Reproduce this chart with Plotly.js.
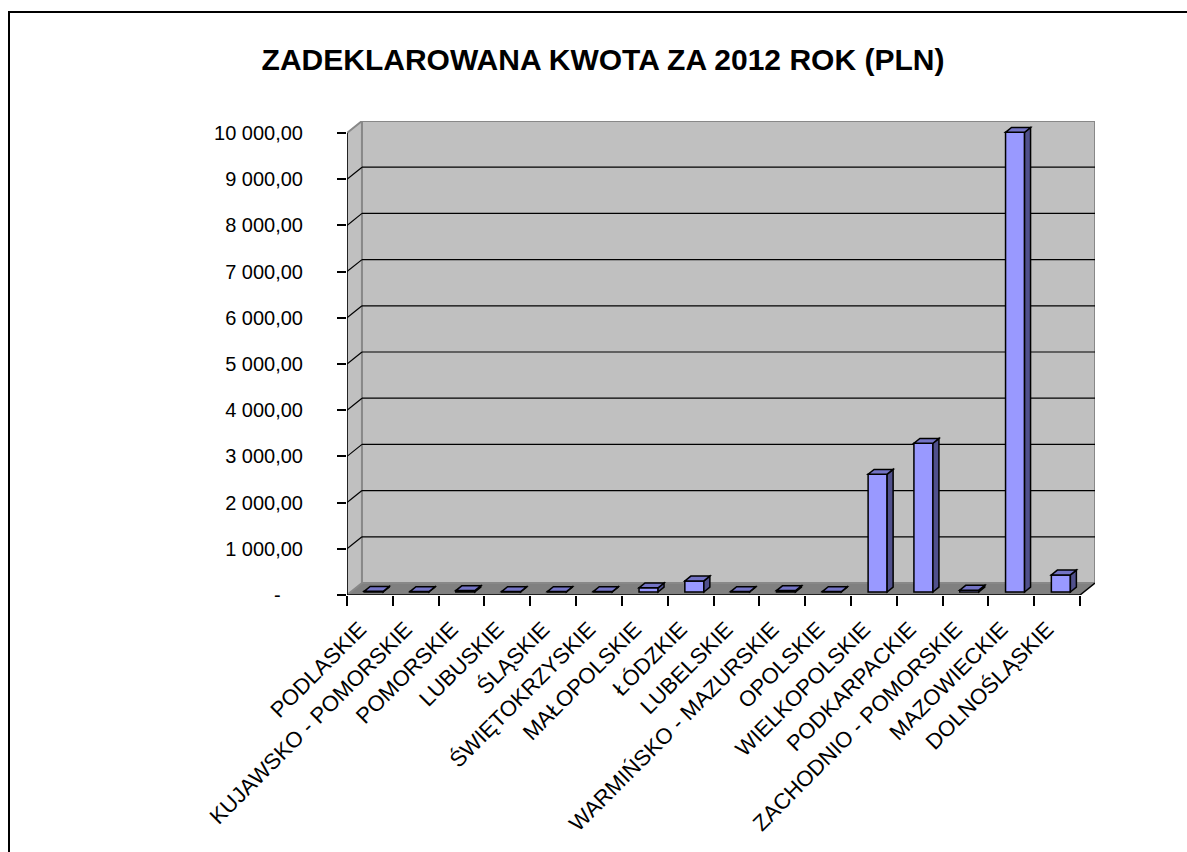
<!DOCTYPE html>
<html>
<head>
<meta charset="utf-8">
<script src="https://cdn.plot.ly/plotly-3.0.1.min.js"></script>
<style>
  body { margin: 0; background: #fff; }
  #frame { position: absolute; left: 8px; top: 11px; width: 1300px; height: 1000px;
           border-left: 2px solid #000; border-top: 2px solid #000; }
  #plotArea { position: absolute; left: 0; top: 0; width: 1187px; height: 852px; }
</style>
</head>
<body>
<div id="frame"></div>
<div id="plotArea"></div>
<script>
// dane z wykresu
var regions = ["PODLASKIE", "KUJAWSKO - POMORSKIE", "POMORSKIE", "LUBUSKIE", "ŚLĄSKIE",
    "ŚWIĘTOKRZYSKIE", "MAŁOPOLSKIE", "ŁÓDZKIE", "LUBELSKIE", "WARMIŃSKO - MAZURSKIE",
    "OPOLSKIE", "WIELKOPOLSKIE", "PODKARPACKIE", "ZACHODNIO - POMORSKIE", "MAZOWIECKIE",
    "DOLNOŚLĄSKIE"];
var amounts = [15, 10, 30, 10, 10, 10, 90, 240, 10, 30, 10, 2550, 3220, 40, 9950, 370];
var yTicks = [0, 1000, 2000, 3000, 4000, 5000, 6000, 7000, 8000, 9000, 10000];
var yTickText = ["-\u00a0\u00a0\u00a0\u00a0", "1 000,00", "2 000,00", "3 000,00", "4 000,00", "5 000,00",
    "6 000,00", "7 000,00", "8 000,00", "9 000,00", "10 000,00"];

// "3D" look: wall depth and bar depth in axis units
var n = regions.length;
var wallDx = 0.327, wallDy = 260;
var barW = 0.415, barDx0 = 0.082, barDy0 = 65, barDx = 0.131, barDy = 104;
var yMax = 10000;

var shapes = [];
var left = -0.5, right = n - 0.5;

// floor
shapes.push({type: "path", xref: "x", yref: "y", layer: "below",
    path: "M" + left + ",0 L" + right + ",0 L" + (right + wallDx) + "," + wallDy +
          " L" + (left + wallDx) + "," + wallDy + " Z",
    fillcolor: "#808080", line: {width: 0}});
// left wall
shapes.push({type: "path", xref: "x", yref: "y", layer: "below",
    path: "M" + left + ",0 L" + (left + wallDx) + "," + wallDy + " L" + (left + wallDx) + "," +
          (yMax + wallDy) + " L" + left + "," + yMax + " Z",
    fillcolor: "#c0c0c0", line: {color: "#888", width: 2}});
// back wall
shapes.push({type: "rect", xref: "x", yref: "y", layer: "below",
    x0: left + wallDx, x1: right + wallDx, y0: wallDy, y1: yMax + wallDy,
    fillcolor: "#c0c0c0", line: {color: "#888", width: 2}});
// gridlines
yTicks.forEach(function (v) {
    if (v === 0 || v === yMax) return;
    shapes.push({type: "line", xref: "x", yref: "y", layer: "below",
        x0: left + wallDx, x1: right + wallDx, y0: v + wallDy, y1: v + wallDy,
        line: {color: "#000", width: 1.2}});
    shapes.push({type: "line", xref: "x", yref: "y", layer: "below",
        x0: left, x1: left + wallDx, y0: v, y1: v + wallDy,
        line: {color: "#000", width: 1.2}});
});
// axis lines
shapes.push({type: "line", xref: "x", yref: "y", x0: left, x1: left, y0: 0, y1: yMax,
    line: {color: "#000", width: 1.5}});
shapes.push({type: "line", xref: "x", yref: "y", x0: left, x1: right, y0: 0, y1: 0,
    line: {color: "#000", width: 1.5}});
shapes.push({type: "line", xref: "x", yref: "y", x0: right, x1: right + wallDx, y0: 0, y1: wallDy,
    line: {color: "#000", width: 1.5}});

// top and side faces of bars
amounts.forEach(function (v, i) {
    var x0 = i - barW / 2 + barDx0, x1 = x0 + barW;
    var b = barDy0, t = barDy0 + v;
    shapes.push({type: "path", xref: "x", yref: "y",
        path: "M" + x1 + "," + b + " L" + (x1 + barDx) + "," + (b + barDy) + " L" + (x1 + barDx) + "," +
              (t + barDy) + " L" + x1 + "," + t + " Z",
        fillcolor: "#50508c", line: {color: "#000", width: 1.5}});
    shapes.push({type: "path", xref: "x", yref: "y",
        path: "M" + x0 + "," + t + " L" + x1 + "," + t + " L" + (x1 + barDx) + "," + (t + barDy) +
              " L" + (x0 + barDx) + "," + (t + barDy) + " Z",
        fillcolor: "#7373c4", line: {color: "#000", width: 1.5}});
});

var trace = {
    x: regions,
    y: amounts,
    type: "bar",
    base: barDy0,
    width: barW,
    offset: -barW / 2 + barDx0,
    marker: {color: "#9999ff", line: {color: "#000", width: 1.5}},
    hoverinfo: "x+y"
};

var layout = {
    width: 1187, height: 852,
    margin: {l: 347, r: 92, t: 121, b: 257},
    paper_bgcolor: "rgba(0,0,0,0)",
    plot_bgcolor: "rgba(0,0,0,0)",
    font: {family: "Liberation Sans, Arial, sans-serif", size: 20, color: "#000"},
    title: {text: "<b>ZADEKLAROWANA KWOTA ZA 2012 ROK (PLN)</b>",
        font: {size: 30, family: "Liberation Sans, Arial, sans-serif"},
        x: 0.508, xanchor: "center", y: 0.93, yanchor: "middle"},
    showlegend: false,
    xaxis: {type: "category", range: [left, right + wallDx], tickson: "boundaries",
        ticks: "outside", ticklen: 10, tickcolor: "#000", tickwidth: 1.5,
        tickangle: -45, tickfont: {size: 22}, ticklabelstandoff: 16, ticklabelshift: -10,
        showgrid: false, zeroline: false, showline: false, fixedrange: true},
    yaxis: {range: [0, yMax + wallDy], tickvals: yTicks, ticktext: yTickText,
        ticks: "outside", ticklen: 9, tickcolor: "#000", tickwidth: 1.5,
        tickfont: {size: 20}, ticklabelstandoff: 30,
        showgrid: false, zeroline: false, showline: false, fixedrange: true},
    shapes: shapes
};

Plotly.newPlot("plotArea", [trace], layout, {displayModeBar: false});
</script>
</body>
</html>
